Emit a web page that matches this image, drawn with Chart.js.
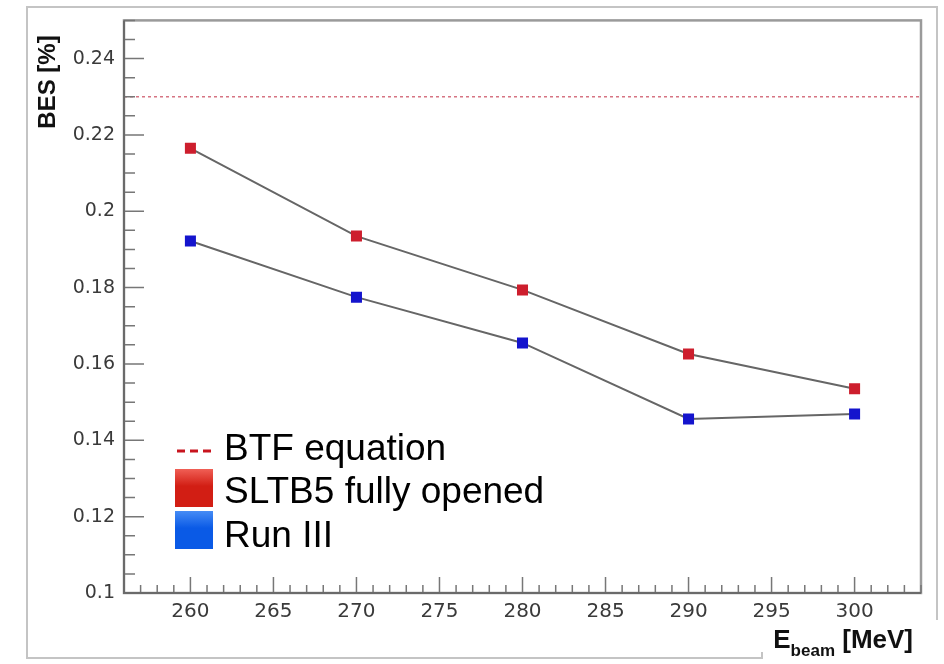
<!DOCTYPE html>
<html>
<head>
<meta charset="utf-8">
<title>BES vs beam energy</title>
<script src="https://cdn.jsdelivr.net/npm/chart.js@4.4.1/dist/chart.umd.min.js"></script>
<style>
  body { margin: 0; background: #fff; }
  #wrap { width: 944px; height: 664px; }
</style>
</head>
<body>
<div id="wrap"><canvas id="bes-chart" width="944" height="664"></canvas></div>
<script>
// beam energy [MeV] and measured energy spread [%]
const beamEnergy = [260, 270, 280, 290, 300];
const besSltb5 = [0.2165, 0.1935, 0.1794, 0.1626, 0.1535];
const besRun3 = [0.1922, 0.1775, 0.1655, 0.1456, 0.1469];
const btfLevel = 0.23;
const xRange = [256, 304];
const yRange = [0.1, 0.25];
const legendLabels = ["BTF equation", "SLTB5 fully opened", "Run III"];

const RED = "rgb(205,30,45)";
const BLUE = "rgb(20,20,205)";

function toPoints(xs, ys) {
  return xs.map((x, i) => ({ x: x, y: ys[i] }));
}

function isMultiple(v, step) {
  const r = v / step;
  return Math.abs(r - Math.round(r)) < 1e-6;
}

// ROOT style frame, inward ticks, axis titles and legend
const rootStyle = {
  id: "rootStyle",
  beforeDraw(chart) {
    const ctx = chart.ctx;
    ctx.save();
    ctx.fillStyle = "#fff";
    ctx.fillRect(0, 0, chart.width, chart.height);
    ctx.strokeStyle = "#c4c4c4";
    ctx.lineWidth = 2;
    ctx.beginPath();
    ctx.moveTo(937, 620);
    ctx.lineTo(937, 7);
    ctx.lineTo(27, 7);
    ctx.lineTo(27, 658);
    ctx.lineTo(762, 658);
    ctx.lineTo(762, 652);
    ctx.stroke();
    ctx.restore();
  },
  afterDraw(chart) {
    const ctx = chart.ctx;
    const a = chart.chartArea;
    const xs = chart.scales.x;
    const ys = chart.scales.y;
    ctx.save();

    // frame
    ctx.strokeStyle = "#9a9a9a";
    ctx.lineWidth = 2.5;
    ctx.strokeRect(a.left, a.top, a.right - a.left, a.bottom - a.top);

    // ticks
    ctx.strokeStyle = "#777";
    ctx.lineWidth = 1.5;
    ctx.beginPath();
    ys.ticks.forEach(t => {
      const y = ys.getPixelForValue(t.value);
      const len = isMultiple(t.value, 0.02) ? 20 : 11;
      ctx.moveTo(a.left, y);
      ctx.lineTo(a.left + len, y);
    });
    xs.ticks.forEach(t => {
      const x = xs.getPixelForValue(t.value);
      const len = isMultiple(t.value, 5) ? 16 : 8;
      ctx.moveTo(x, a.bottom);
      ctx.lineTo(x, a.bottom - len);
    });
    ctx.stroke();

    // axis lines
    ctx.strokeStyle = "#6a6a6a";
    ctx.lineWidth = 2;
    ctx.beginPath();
    ctx.moveTo(a.left, a.top);
    ctx.lineTo(a.left, a.bottom);
    ctx.lineTo(a.right, a.bottom);
    ctx.stroke();

    // y title
    ctx.fillStyle = "#111";
    ctx.font = "bold 24px 'Liberation Sans', Arial, sans-serif";
    ctx.save();
    ctx.translate(48, 82);
    ctx.rotate(-Math.PI / 2);
    ctx.textAlign = "center";
    ctx.textBaseline = "middle";
    ctx.fillText("BES [%]", 0, 0);
    ctx.restore();

    // x title with subscript
    const big = "bold 26px 'Liberation Sans', Arial, sans-serif";
    const small = "bold 17px 'Liberation Sans', Arial, sans-serif";
    ctx.textAlign = "left";
    ctx.textBaseline = "alphabetic";
    ctx.font = big;
    const wE = ctx.measureText("E").width;
    const wU = ctx.measureText(" [MeV]").width;
    ctx.font = small;
    const wS = ctx.measureText("beam").width;
    let x0 = 913 - (wE + wS + wU);
    ctx.font = big;
    ctx.fillText("E", x0, 648);
    ctx.font = small;
    ctx.fillText("beam", x0 + wE, 656);
    ctx.font = big;
    ctx.fillText(" [MeV]", x0 + wE + wS, 648);

    // legend
    ctx.font = "37px 'Liberation Sans', Arial, sans-serif";
    ctx.fillStyle = "#000";
    ctx.fillText(legendLabels[0], 224, 460);
    ctx.fillText(legendLabels[1], 224, 503);
    ctx.fillText(legendLabels[2], 224, 547);

    ctx.strokeStyle = "rgb(200,20,30)";
    ctx.lineWidth = 3;
    ctx.setLineDash([8, 5]);
    ctx.beginPath();
    ctx.moveTo(177, 451);
    ctx.lineTo(213, 451);
    ctx.stroke();
    ctx.setLineDash([]);

    const boxes = [
      { y: 469, top: "rgb(240,95,85)", bottom: "rgb(210,30,20)" },
      { y: 511, top: "rgb(70,140,245)", bottom: "rgb(10,90,230)" }
    ];
    boxes.forEach(b => {
      const g = ctx.createLinearGradient(0, b.y, 0, b.y + 38);
      g.addColorStop(0, b.top);
      g.addColorStop(0.45, b.bottom);
      g.addColorStop(1, b.bottom);
      ctx.fillStyle = g;
      ctx.fillRect(175, b.y, 38, 38);
    });

    ctx.restore();
  }
};

const chartData = {
  datasets: [
    {
      label: legendLabels[0],
      data: toPoints(xRange, [btfLevel, btfLevel]),
      borderColor: "rgba(200,70,90,0.75)",
      borderWidth: 1.5,
      borderDash: [3, 3],
      pointRadius: 0
    },
    {
      label: legendLabels[1],
      data: toPoints(beamEnergy, besSltb5),
      borderColor: "#666",
      borderWidth: 2,
      pointStyle: "rect",
      pointRadius: 7.8,
      pointBorderWidth: 0,
      pointBackgroundColor: RED
    },
    {
      label: legendLabels[2],
      data: toPoints(beamEnergy, besRun3),
      borderColor: "#666",
      borderWidth: 2,
      pointStyle: "rect",
      pointRadius: 7.8,
      pointBorderWidth: 0,
      pointBackgroundColor: BLUE
    }
  ]
};

const tickFont = { family: "'DejaVu Sans', sans-serif", size: 19 };

const chartOptions = {
  responsive: false,
  animation: false,
  layout: { padding: { left: 0, top: 19, right: 23, bottom: 0 } },
  plugins: {
    legend: { display: false },
    tooltip: { enabled: false }
  },
  scales: {
    x: {
      type: "linear",
      min: xRange[0],
      max: xRange[1],
      grid: { display: false, drawTicks: false },
      border: { display: false },
      afterFit: s => { s.height = 71; },
      ticks: {
        stepSize: 1,
        autoSkip: false,
        maxRotation: 0,
        padding: 7,
        color: "#3a3a3a",
        font: { family: "'DejaVu Sans', sans-serif", size: 20 },
        callback: v => (isMultiple(v, 5) ? String(Math.round(v)) : "")
      }
    },
    y: {
      min: yRange[0],
      max: yRange[1],
      grid: { display: false, drawTicks: false },
      border: { display: false },
      afterFit: s => { s.width = 124; },
      ticks: {
        stepSize: 0.005,
        autoSkip: false,
        padding: 9,
        color: "#3a3a3a",
        font: tickFont,
        callback: v => (isMultiple(v, 0.02) ? String(parseFloat(v.toFixed(2))) : "")
      }
    }
  }
};

const besChart = new Chart(document.getElementById("bes-chart"), {
  type: "line",
  data: chartData,
  options: chartOptions,
  plugins: [rootStyle]
});
</script>
</body>
</html>
